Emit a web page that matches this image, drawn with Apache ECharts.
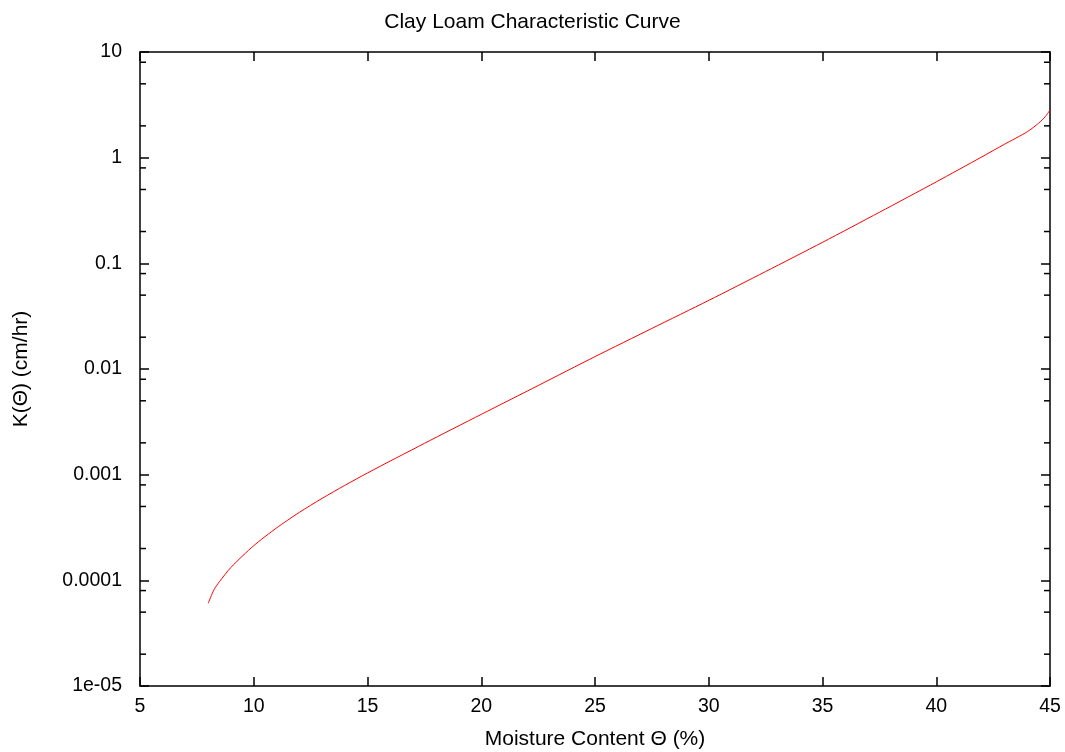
<!DOCTYPE html>
<html>
<head>
<meta charset="utf-8">
<script src="https://cdn.jsdelivr.net/npm/echarts@6/dist/echarts.min.js"></script>
<style>html,body{margin:0;padding:0;background:#fff}#c{width:1065px;height:752px}</style>
</head>
<body>
<div id="c"></div>
<script>
const moisture = [8, 8.25, 8.5, 9, 10, 11, 12, 13, 14, 15, 17.5, 20, 22.5, 25, 27.5, 30, 32.5, 35, 37.5, 40, 42, 43, 44, 44.5, 44.8, 45];
const conductivity = [6.07e-5, 8.13e-5, 9.77e-5, 1.327e-4, 2.13e-4, 3.13e-4, 4.39e-4, 5.96e-4, 7.91e-4, 1.038e-3, 1.977e-3, 3.72e-3, 6.97e-3, 0.0131, 0.0242, 0.0446, 0.0836, 0.158, 0.304, 0.590, 1.016, 1.34, 1.758, 2.12, 2.455, 2.825];
const yTickLabels = ['1e-05', '0.0001', '0.001', '0.01', '0.1', '1', '10'];
const minorTickValues = [2e-5,5e-5,8e-5,2e-4,5e-4,8e-4,2e-3,5e-3,8e-3,0.02,0.05,0.08,0.2,0.5,0.8,2,5,8];

const chart = echarts.init(document.getElementById('c'));
const font = 'Liberation Sans, Arial, sans-serif';
const tickFs = 19.5, nameFs = 21;
chart.setOption({
  animation: false,
  title: {text: 'Clay Loam Characteristic Curve', left: 'center', top: 7,
    textStyle: {fontFamily: font, fontSize: nameFs, fontWeight: 'normal', color: '#000'}},
  grid: {left: 140, right: 15, top: 52, bottom: 66, outerBoundsMode: 'none', containLabel: false},
  xAxis: [{
    type: 'value', min: 5, max: 45, interval: 5,
    name: 'Moisture Content Θ (%)', nameLocation: 'middle', nameGap: 43,
    nameTextStyle: {fontFamily: font, fontSize: nameFs, color: '#000'},
    axisLine: {lineStyle: {color: '#000', width: 1.5}},
    axisTick: {inside: true, length: 9, lineStyle: {color: '#000', width: 1.5}},
    axisLabel: {fontFamily: font, fontSize: tickFs, color: '#000', margin: 11},
    splitLine: {show: false}
  }, {
    type: 'value', min: 5, max: 45, interval: 5, position: 'top',
    axisLine: {lineStyle: {color: '#000', width: 1.5}},
    axisTick: {inside: true, length: 9, lineStyle: {color: '#000', width: 1.5}},
    axisLabel: {show: false}, splitLine: {show: false}
  }],
  yAxis: [{
    type: 'log', logBase: 10, min: 1e-5, max: 10,
    name: 'K(Θ) (cm/hr)', nameLocation: 'middle', nameGap: 108,
    nameTextStyle: {fontFamily: font, fontSize: nameFs, color: '#000'},
    axisLine: {lineStyle: {color: '#000', width: 1.5}},
    axisTick: {inside: true, length: 9, lineStyle: {color: '#000', width: 1.5}},
    axisLabel: {fontFamily: font, fontSize: tickFs, color: '#000', margin: 18,
      formatter: v => yTickLabels[Math.round(Math.log10(v)) + 5] || ''},
    splitLine: {show: false}
  }, {
    type: 'log', logBase: 10, min: 1e-5, max: 10, position: 'right',
    axisLine: {lineStyle: {color: '#000', width: 1.5}},
    axisTick: {inside: true, length: 9, lineStyle: {color: '#000', width: 1.5}},
    axisLabel: {show: false}, splitLine: {show: false}
  }],
  series: [{
    type: 'line', data: moisture.map((m, i) => [m, conductivity[i]]),
    smooth: 0.25, showSymbol: false,
    lineStyle: {color: '#ff0000', width: 1}
  }, {
    type: 'custom', xAxisIndex: 0, yAxisIndex: 0, silent: true,
    data: minorTickValues.map(v => [5, v]),
    renderItem: (params, api) => {
      const v = api.value(1);
      const l = api.coord([5, v]);
      const r = api.coord([45, v]);
      return {type: 'group', children: [
        {type: 'line', shape: {x1: l[0], y1: l[1], x2: l[0] + 6, y2: l[1]}, style: {stroke: '#000', lineWidth: 1.5}},
        {type: 'line', shape: {x1: r[0], y1: r[1], x2: r[0] - 6, y2: r[1]}, style: {stroke: '#000', lineWidth: 1.5}}
      ]};
    }
  }]
});
</script>
</body>
</html>
